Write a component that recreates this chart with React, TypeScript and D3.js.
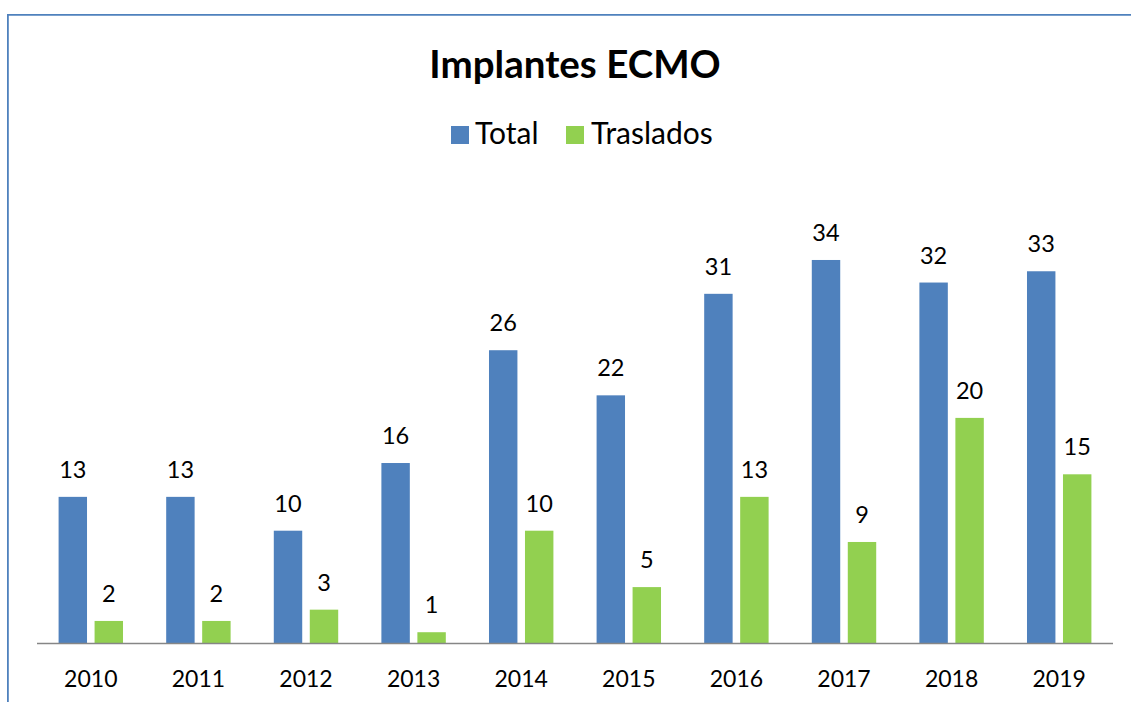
import React from "react";
import * as d3 from "d3";

const years = ["2010", "2011", "2012", "2013", "2014", "2015", "2016", "2017", "2018", "2019"];
const totalValues = [13, 13, 10, 16, 26, 22, 31, 34, 32, 33];
const trasladosValues = [2, 2, 3, 1, 10, 5, 13, 9, 20, 15];
const seriesNames = ["Total", "Traslados"];
const seriesColors = ["#4F81BD", "#92D050"];
const chartTitle = "Implantes ECMO";

const W = 1131;
const H = 702;
const FONT = "Lato, 'Open Sans', 'Liberation Sans', sans-serif";

export default function App() {
  const x = d3.scaleBand<string>().domain(years).range([37, 1113]).paddingInner(0).paddingOuter(0);
  const xs = d3
    .scaleBand<string>()
    .domain(seriesNames)
    .range([0, x.bandwidth()])
    .paddingInner(0.21)
    .paddingOuter(0.6);
  const y = d3.scaleLinear().domain([0, 40]).range([643.5, 192.3]);

  const series = [totalValues, trasladosValues];

  return (
    <svg
      width={W}
      height={H}
      style={{ position: "fixed", left: 0, top: 0, background: "#fff" }}
      fontFamily={FONT}
    >
      <rect x={0} y={0} width={W} height={H} fill="#fff" />
      <path d={`M7.9,${H} V14.9 H${W}`} fill="none" stroke="#4F81BD" strokeWidth={1.8} />

      <text x={575} y={77.5} textAnchor="middle" fontSize={38.5} fontWeight="bold" fill="#000">
        {chartTitle}
      </text>

      {/* legend */}
      <g>
        <rect x={451} y={126} width={18} height={18} fill={seriesColors[0]} />
        <text x={475} y={143.5} fontSize={30} fill="#000">
          {seriesNames[0]}
        </text>
        <rect x={566} y={126} width={18} height={18} fill={seriesColors[1]} />
        <text x={591} y={143.5} fontSize={30} fill="#000">
          {seriesNames[1]}
        </text>
      </g>

      {series.map((vals, si) => (
        <g key={seriesNames[si]}>
          {vals.map((v, i) => {
            const bx = (x(years[i]) as number) + (xs(seriesNames[si]) as number);
            return (
              <g key={years[i]}>
                <rect x={bx} y={y(v)} width={xs.bandwidth()} height={y(0) - y(v)} fill={seriesColors[si]} />
                <text
                  x={bx + xs.bandwidth() / 2}
                  y={y(v) - 19}
                  textAnchor="middle"
                  fontSize={23.5}
                  fill="#000"
                >
                  {v}
                </text>
              </g>
            );
          })}
        </g>
      ))}

      <line x1={37} x2={1113} y1={643.5} y2={643.5} stroke="#868686" strokeWidth={1.5} />

      {years.map((yr) => (
        <text
          key={yr}
          x={(x(yr) as number) + x.bandwidth() / 2}
          y={687.3}
          textAnchor="middle"
          fontSize={23}
          fill="#000"
        >
          {yr}
        </text>
      ))}
    </svg>
  );
}
